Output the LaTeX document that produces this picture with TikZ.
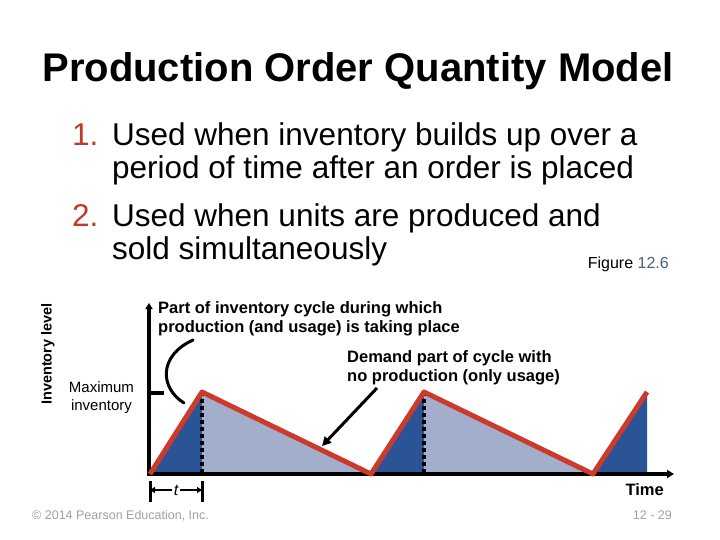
\documentclass[tikz,border=0pt]{standalone}
\usepackage{fontspec}
\setmainfont{Liberation Sans}
\usetikzlibrary{arrows.meta}
\definecolor{numred}{RGB}{192,57,43}
\definecolor{figblue}{RGB}{70,95,125}
\definecolor{linered}{RGB}{204,58,44}
\definecolor{darkfill}{RGB}{42,84,150}
\definecolor{lightfill}{RGB}{162,174,203}
\definecolor{footgray}{RGB}{160,160,160}
\tikzset{
  bigtext/.style={font=\fontsize{31.5}{33}\selectfont, anchor=base west, inner sep=0pt},
  numtext/.style={bigtext, text=numred},
  lbl/.style={font=\bfseries\fontsize{16.5}{18.5}\selectfont, align=left, inner sep=0pt},
  axisline/.style={line width=3.5pt},
  peakline/.style={line width=4pt, dash pattern=on 4pt off 3pt},
  sawline/.style={line width=5pt, draw=linered, line join=round},
  pointer/.style={line width=3pt},
  foot/.style={font=\fontsize{12.5}{14}\selectfont, text=footgray, inner sep=0pt}
}
\begin{document}
\begin{tikzpicture}[x=1pt,y=-1pt]
\useasboundingbox (0,0) rectangle (720,540);
% title
\node[font=\bfseries\fontsize{40}{40}\selectfont, anchor=base, inner sep=0pt] (title) at (358,82) {Production Order Quantity Model};
% list
\node[numtext] (n1) at (72,146) {1.};
\node[bigtext] (l1) at (112,146) {Used when inventory builds up over a};
\node[bigtext] (l2) at (112,179) {period of time after an order is placed};
\node[numtext] (n2) at (72,226) {2.};
\node[bigtext] (l3) at (112,226) {Used when units are produced and};
\node[bigtext] (l4) at (112,259) {sold simultaneously};
\node[font=\fontsize{16}{16}\selectfont, anchor=base east, inner sep=0pt] (fig) at (669,268) {Figure \textcolor{figblue}{12.6}};
% key points
\coordinate (O) at (149,474);
\coordinate (A0) at (150,474);
\coordinate (P1) at (202,392);
\coordinate (B1) at (202,474);
\coordinate (V1) at (371,474);
\coordinate (P2) at (424,392);
\coordinate (B2) at (424,474);
\coordinate (V2) at (593,474);
\coordinate (P3) at (647,392);
\coordinate (B3) at (647,474);
\coordinate (ytop) at (149,303);
\coordinate (xend) at (674,474);
% fills
\fill[darkfill] (A0) -- (P1) -- (B1) -- cycle;
\fill[lightfill] (B1) -- (P1) -- (V1) -- cycle;
\fill[darkfill] (V1) -- (P2) -- (B2) -- cycle;
\fill[lightfill] (B2) -- (P2) -- (V2) -- cycle;
\fill[darkfill] (V2) -- (P3) -- (B3) -- cycle;
% dashed peak lines
\draw[peakline] (P1) -- (B1);
\draw[peakline] (P2) -- (B2);
% axes
\draw[axisline, -{Triangle[width=7pt,length=6pt]}] (149,476) -- (ytop);
\draw[axisline, -{Triangle[width=8pt,length=7pt]}] (147.25,474) -- (xend);
% max tick
\coordinate (mtick) at (164,393);
\draw[axisline] (149,393) -- (mtick);
% saw line
\draw[sawline] (A0) -- (P1) -- (V1) -- (P2) -- (V2) -- (P3);
% labels (anchor base = baseline of last line)
\node[lbl, anchor=base west] (part) at (158,332) {Part of inventory cycle during which\\production (and usage) is taking place};
\node[lbl, anchor=base west] (demand) at (347,381) {Demand part of cycle with\\no production (only usage)};
\node[font=\fontsize{15}{18}\selectfont, align=center, anchor=base, inner sep=0pt] (maxinv) at (101.5,410) {Maximum\\inventory};
\node[font=\bfseries\fontsize{14.5}{14.5}\selectfont, rotate=90, inner sep=0pt] (ylab) at (48,354) {Inventory level};
\node[font=\bfseries\fontsize{16.5}{16.5}\selectfont, anchor=base east, inner sep=0pt] (time) at (664,495) {Time};
% pointers
\coordinate (c1) at (193,340);
\coordinate (c2) at (184,403);
\draw[pointer, line cap=round] (c1) .. controls (158,356) and (160,388) .. (c2);
\coordinate (d1) at (377,388);
\coordinate (d2) at (322,446);
\draw[pointer, -{Triangle[width=9pt,length=9pt]}] (d1) -- (d2);
% t bracket
\node[font=\itshape\fontsize{16}{16}\selectfont, inner sep=1.5pt] (t) at (176,490) {t};
\coordinate (tl) at (150,490);
\coordinate (tr) at (202,490);
\draw[line width=3pt] (150,481) -- (150,502);
\draw[line width=3pt] (202,481) -- (202,502);
\draw[line width=2pt, -{Triangle[width=6pt,length=5pt]}] (t.west) -- (tl);
\draw[line width=2pt, -{Triangle[width=6pt,length=5pt]}] (t.east) -- (tr);
% footer
\node[foot, anchor=base west] (copy) at (32,519) {© 2014 Pearson Education, Inc.};
\node[foot, anchor=base east] (page) at (672,519) {12 - 29};
\end{tikzpicture}
\end{document}
